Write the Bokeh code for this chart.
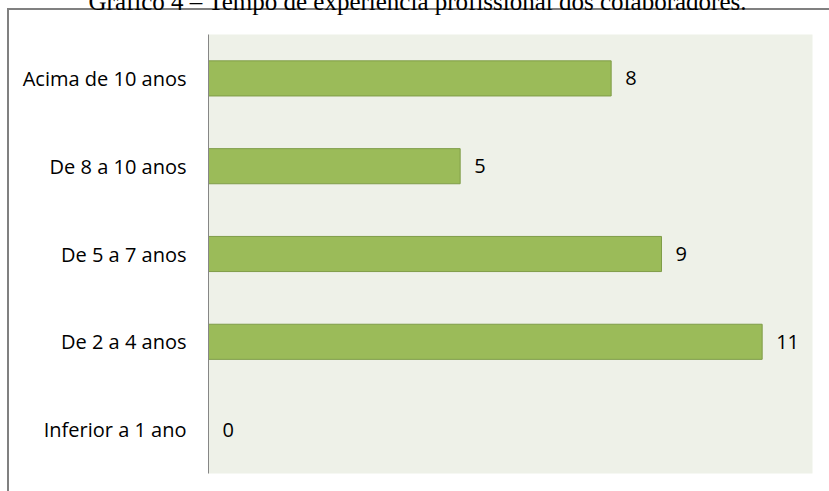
from bokeh.plotting import figure
from bokeh.models import ColumnDataSource
from bokeh.embed import file_html
from bokeh.resources import INLINE
from bokeh.core.properties import value

categories = ["Inferior a 1 ano", "De 2 a 4 anos", "De 5 a 7 anos", "De 8 a 10 anos", "Acima de 10 anos"]
counts = [0, 11, 9, 5, 8]
value_labels = [str(c) for c in counts]
title_text = "Gráfico 4 – Tempo de experiência profissional dos colaboradores."

src = ColumnDataSource(dict(cat=categories, n=counts, lab=value_labels))

SHIFT = 34  # the title is cut by the top of the page, as in the reference
frame_css = ("linear-gradient(#808080, #808080) 7px %dpx / 2px calc(100%% - %dpx) no-repeat, "
             "linear-gradient(#808080, #808080) 7px %dpx / calc(100%% - 7px) 2px no-repeat, white"
             % (8 + SHIFT, 8 + SHIFT, 8 + SHIFT))

p = figure(width=829, height=491 + SHIFT, y_range=categories, x_range=(0, 12),
           output_backend="svg", toolbar_location=None,
           min_border_left=208, min_border_right=17, min_border_top=34 + SHIFT, min_border_bottom=18,
           styles={"margin-top": "-%dpx" % SHIFT, "background": frame_css})

p.title.text = title_text
p.title.text_font = "Liberation Serif"
p.title.text_font_size = "25px"
p.title.text_font_style = "normal"
p.title.text_color = "black"
p.title.align = "left"
p.title.offset = -120
p.title.standoff = 39

p.background_fill_color = "#EEF1E8"
p.border_fill_alpha = 0
p.outline_line_color = None
p.xgrid.visible = False
p.ygrid.visible = False
p.xaxis.visible = False

p.hbar(y="cat", right="n", left=0, height=0.4, source=src,
       fill_color="#9BBB59", line_color="#7F9D48", line_width=1)

p.text(x="n", y="cat", text="lab", source=src, x_offset=14,
       text_baseline="middle", text_align="left",
       text_font=value("Open Sans"), text_font_size="20px", text_color="black")

ax = p.yaxis[0]
ax.axis_line_color = "#868686"
ax.axis_line_width = 1
ax.major_tick_line_color = None
ax.minor_tick_line_color = None
ax.major_label_standoff = 16
ax.major_label_text_font = "Open Sans"
ax.major_label_text_font_size = "20px"
ax.major_label_text_color = "black"

open("out.html", "w").write(file_html(p, INLINE))
